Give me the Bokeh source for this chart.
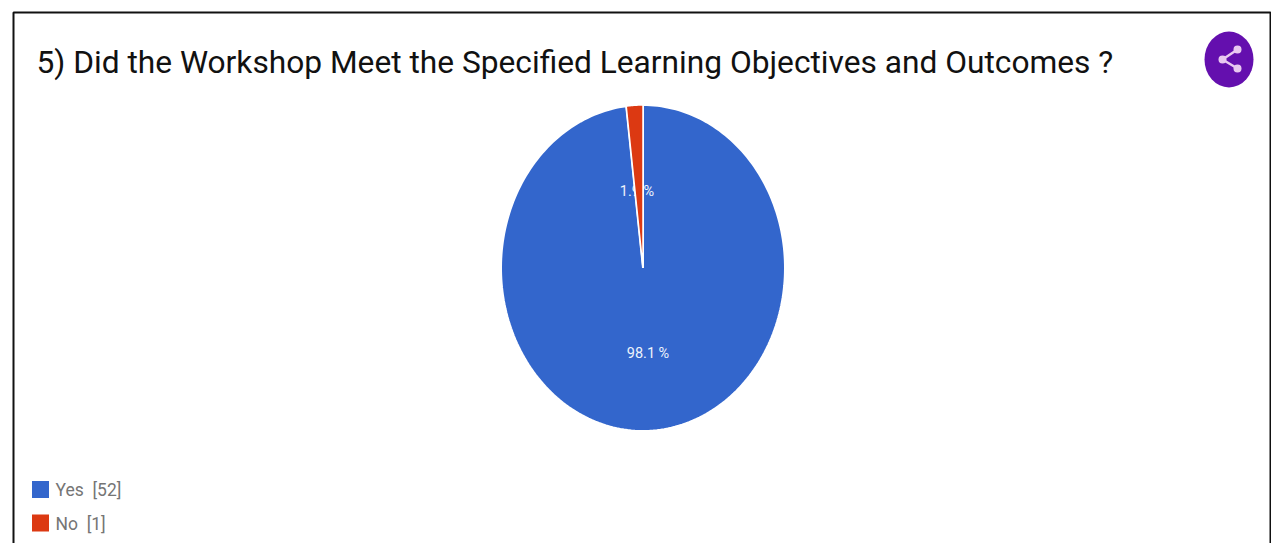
import numpy as np
from bokeh.plotting import figure
from bokeh.embed import file_html
from bokeh.resources import INLINE
from bokeh.core.properties import value
from bokeh.models import Range1d

title = "5) Did the Workshop Meet the Specified Learning Objectives and Outcomes ?"
categories = ["Yes", "No"]
counts = [52, 1]
shares = [98.1, 1.9]
colors = ["#3366cc", "#dc3912"]
legend_labels = ["Yes\u00a0\u00a0[52]", "No\u00a0\u00a0[1]"]

W, H = 1271, 543
X0, Y0 = 0, 0
p = figure(width=W, height=H, output_backend="svg", toolbar_location=None,
           x_range=Range1d(X0, X0 + W), y_range=Range1d(Y0 + H, Y0),
           min_border=0, outline_line_color=None, background_fill_color="white",
           border_fill_color="white")
p.axis.visible = False
p.grid.visible = False

# frame
p.line([13, 13, 1270, 1270], [560, 12, 12, 560], line_color="#111111", line_width=2)

# title
p.text([36], [61.5], text=[title], text_font=value("Roboto"), text_font_size="31.7px",
       text_color="#111111", text_baseline="middle", text_align="left")

# pie (elliptical, so built from the shares)
cx, cy, rx, ry = 642.5, 267.5, 142, 163
fracs = np.array(counts) / sum(counts)

def slice_xy(start, end):
    t = np.linspace(start, end, 240) * 2 * np.pi
    return ([cx, *(cx + rx * np.sin(t)), cx], [cy, *(cy - ry * np.cos(t)), cy])

xs_yes, ys_yes = slice_xy(0, fracs[0])
p.patch(xs_yes, ys_yes, fill_color=colors[0], line_color="white", line_width=2)

p.text([647.5], [353], text=[f"{shares[0]} %"], text_font=value("Roboto"), text_font_size="14.5px",
       text_color="#eef3fb", text_align="center", text_baseline="middle")
p.text([636.5], [191], text=[f"{shares[1]} %"], text_font=value("Roboto"), text_font_size="14.5px",
       text_color="#eef3fb", text_align="center", text_baseline="middle")

xs_no, ys_no = slice_xy(fracs[0], 1)
p.patch(xs_no, ys_no, fill_color=colors[1], line_color="white", line_width=1.5)

# legend
for lab, col, y in zip(legend_labels, colors, [489, 522.5]):
    p.rect([40], [y], width=17, height=17, fill_color=col, line_color=None)
    p.text([55], [y + 0.5], text=[lab], text_font=value("Roboto"), text_font_size="17.5px",
           text_color="#757575", text_baseline="middle", text_align="left")

# share button
p.ellipse([1228.5], [59], width=49, height=56, fill_color="#640fae", line_color=None)
p.line([1237, 1222, 1237], [49, 59, 68], line_color="#e8c8f0", line_width=2.5)
p.scatter([1237, 1222, 1237], [49, 59, 68], size=8, fill_color="#e8c8f0", line_color=None)

open("out.html", "w").write(file_html(p, INLINE))
